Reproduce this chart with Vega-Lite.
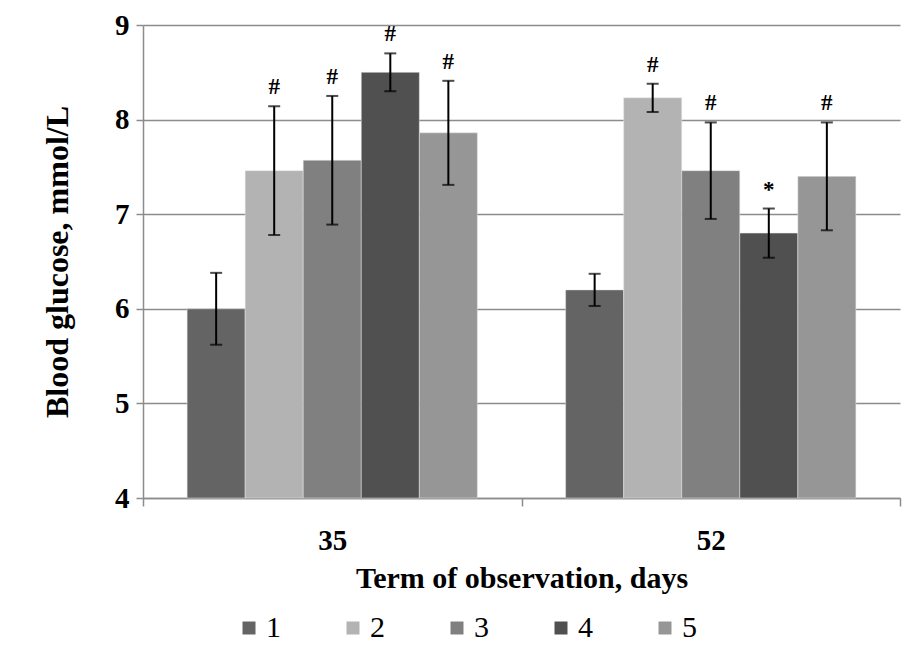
{
  "$schema": "https://vega.github.io/schema/vega-lite/v6.json",
  "width": 757,
  "height": 473,
  "autosize": "none",
  "padding": {"left": 143, "top": 25, "right": 23, "bottom": 151},
  "background": "white",
  "config": {
    "view": {"stroke": null},
    "font": "Liberation Serif, Times New Roman, DejaVu Serif, serif"
  },
  "data": {
    "values": [
      {"term": "35", "group": "1", "mean": 6.00, "lo": 5.62, "hi": 6.38, "sig": ""},
      {"term": "35", "group": "2", "mean": 7.46, "lo": 6.78, "hi": 8.14, "sig": "#"},
      {"term": "35", "group": "3", "mean": 7.57, "lo": 6.89, "hi": 8.25, "sig": "#"},
      {"term": "35", "group": "4", "mean": 8.50, "lo": 8.30, "hi": 8.70, "sig": "#"},
      {"term": "35", "group": "5", "mean": 7.86, "lo": 7.31, "hi": 8.41, "sig": "#"},
      {"term": "52", "group": "1", "mean": 6.20, "lo": 6.03, "hi": 6.37, "sig": ""},
      {"term": "52", "group": "2", "mean": 8.23, "lo": 8.08, "hi": 8.38, "sig": "#"},
      {"term": "52", "group": "3", "mean": 7.46, "lo": 6.95, "hi": 7.97, "sig": "#"},
      {"term": "52", "group": "4", "mean": 6.80, "lo": 6.54, "hi": 7.06, "sig": "*"},
      {"term": "52", "group": "5", "mean": 7.40, "lo": 6.83, "hi": 7.97, "sig": "#"}
    ]
  },
  "encoding": {
    "x": {
      "field": "term", "type": "nominal",
      "scale": {"paddingInner": 0, "paddingOuter": 0},
      "axis": {
        "title": "Term of observation, days",
        "titleFont": "Liberation Serif, Times New Roman, serif", "titleFontSize": 30, "titleFontWeight": "bold", "titleColor": "black",
        "titlePadding": 8,
        "labelAngle": 0, "labelFont": "Liberation Serif, Times New Roman, serif", "labelFontSize": 29, "labelFontWeight": "bold", "labelColor": "black",
        "labelPadding": 20,
        "tickBand": "extent", "tickSize": 8, "tickColor": "#8c8c8c", "tickWidth": 1.5,
        "domainColor": "#8c8c8c", "domainWidth": 1.5, "grid": false
      }
    },
    "xOffset": {
      "field": "group", "type": "nominal",
      "scale": {"paddingInner": 0, "paddingOuter": 0.76}
    }
  },
  "layer": [
    {
      "mark": {"type": "bar", "stroke": "#e6e6e6", "strokeWidth": 0.5},
      "encoding": {
        "y": {
          "field": "mean", "type": "quantitative",
          "scale": {"domain": [4, 9], "zero": false, "nice": false},
          "axis": {
            "title": "Blood glucose, mmol/L",
            "titleFont": "Liberation Serif, Times New Roman, serif", "titleFontSize": 32, "titleFontWeight": "bold", "titleColor": "black",
            "titlePadding": 40,
            "values": [4, 5, 6, 7, 8, 9], "format": "d",
            "labelFont": "Liberation Serif, Times New Roman, serif", "labelFontSize": 29, "labelFontWeight": "bold", "labelColor": "black",
            "labelPadding": 7,
            "tickSize": 7, "tickColor": "#8c8c8c", "tickWidth": 1.5,
            "domainColor": "#8c8c8c", "domainWidth": 1.5,
            "grid": true, "gridColor": "#8c8c8c", "gridWidth": 1.5
          }
        },
        "y2": {"datum": 4},
        "color": {
          "field": "group", "type": "nominal",
          "scale": {"domain": ["1", "2", "3", "4", "5"], "range": ["#646464", "#b3b3b3", "#808080", "#505050", "#969696"]},
          "legend": {
            "title": null, "orient": "none", "legendX": 91, "legendY": 588, "direction": "horizontal", "columns": 5,
            "symbolType": "square", "symbolSize": 169, "symbolStrokeWidth": 0, "symbolOpacity": 1,
            "labelFont": "Liberation Serif, Times New Roman, serif", "labelFontSize": 30, "labelColor": "black",
            "labelOffset": 2, "columnPadding": 57
          }
        }
      }
    },
    {
      "mark": {"type": "rule", "color": "black", "strokeWidth": 2},
      "encoding": {
        "y": {"field": "lo", "type": "quantitative"},
        "y2": {"field": "hi"}
      }
    },
    {
      "mark": {"type": "tick", "color": "black", "thickness": 2, "size": 12, "orient": "horizontal"},
      "encoding": {"y": {"field": "lo", "type": "quantitative"}}
    },
    {
      "mark": {"type": "tick", "color": "black", "thickness": 2, "size": 12, "orient": "horizontal"},
      "encoding": {"y": {"field": "hi", "type": "quantitative"}}
    },
    {
      "mark": {"type": "text", "font": "Liberation Serif, Times New Roman, serif", "fontSize": 23, "fontWeight": "bold", "color": "black", "dy": -19, "baseline": "middle"},
      "encoding": {
        "y": {"field": "hi", "type": "quantitative"},
        "text": {"field": "sig"}
      }
    }
  ]
}
